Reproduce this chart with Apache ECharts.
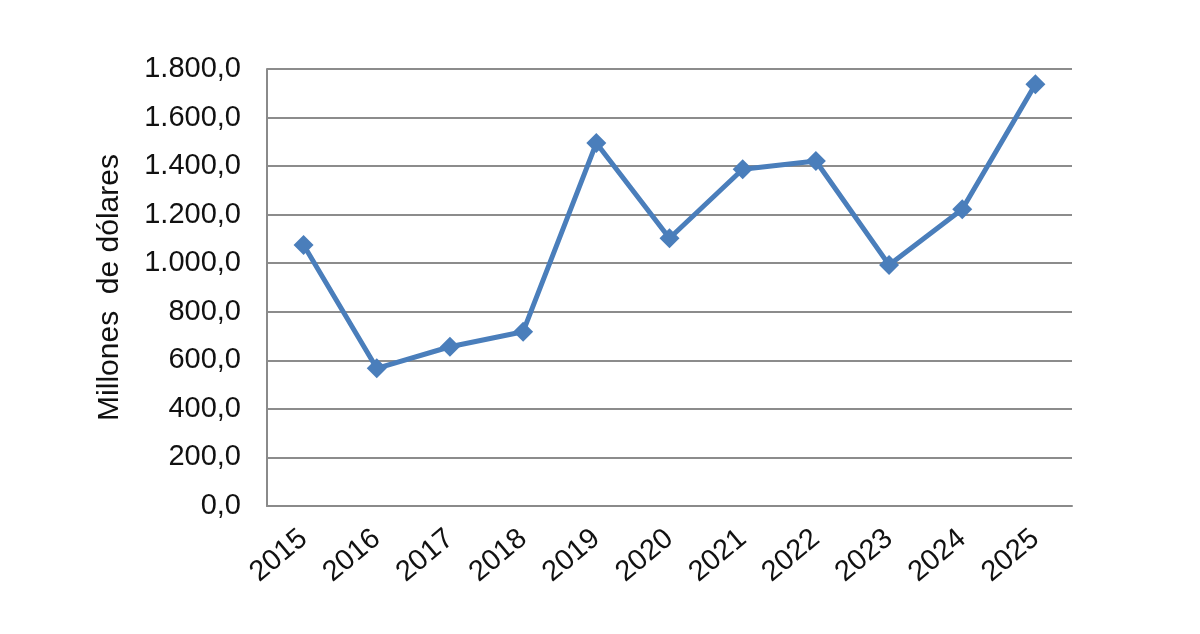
<!DOCTYPE html>
<html>
<head>
<meta charset="utf-8">
<script src="https://cdn.jsdelivr.net/npm/echarts@6/dist/echarts.min.js"></script>
<style>
html,body{margin:0;padding:0;background:#fff;}
#chart{width:1200px;height:634px;}
</style>
</head>
<body>
<div id="chart"></div>
<script>
const years = ['2015','2016','2017','2018','2019','2020','2021','2022','2023','2024','2025'];
const values = [1075, 567, 656, 718, 1495, 1103, 1387, 1421, 993, 1222, 1737];
const yAxisName = 'Millones  de dólares';

function fmt(v){
  const s = Math.round(v).toString().replace(/\B(?=(\d{3})+(?!\d))/g, '.');
  return s + ',0';
}

const chart = echarts.init(document.getElementById('chart'));
chart.setOption({
  animation: false,
  grid: {left: 267, right: 128, top: 69, bottom: 128},
  xAxis: {
    type: 'category',
    data: years,
    boundaryGap: true,
    axisLine: {lineStyle: {color: '#8a8a8a', width: 2}},
    axisTick: {show: false},
    axisLabel: {rotate: 40, color: '#111', fontSize: 29, fontFamily: 'Liberation Sans, Arial', margin: 29}
  },
  yAxis: {
    type: 'value',
    min: 0, max: 1800, interval: 200,
    name: yAxisName,
    nameLocation: 'middle',
    nameGap: 142,
    nameTextStyle: {color: '#111', fontSize: 30, fontFamily: 'Liberation Sans, Arial'},
    axisLine: {show: true, lineStyle: {color: '#8a8a8a', width: 2}},
    axisTick: {show: false},
    splitLine: {lineStyle: {color: '#8c8c8c', width: 2}},
    axisLabel: {color: '#111', fontSize: 29, fontFamily: 'Liberation Sans, Arial', margin: 26, formatter: fmt}
  },
  series: [{
    type: 'line',
    data: values,
    symbol: 'diamond',
    symbolSize: 20,
    lineStyle: {color: '#4a7ebb', width: 5},
    itemStyle: {color: '#4a7ebb'}
  }]
});
</script>
</body>
</html>
